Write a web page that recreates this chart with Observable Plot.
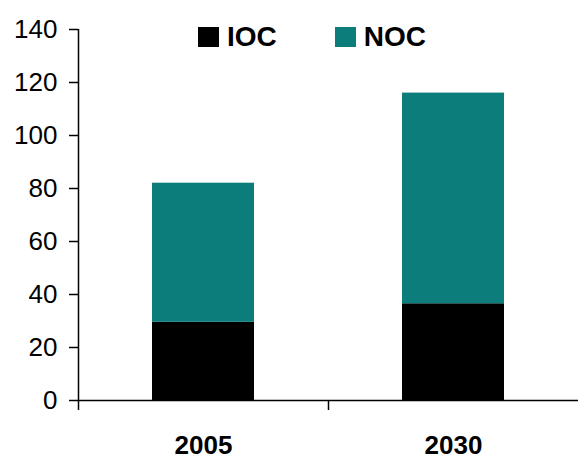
<!DOCTYPE html>
<html>
<head>
<meta charset="utf-8">
<script src="https://cdn.jsdelivr.net/npm/d3@7"></script>
<script src="https://cdn.jsdelivr.net/npm/@observablehq/plot@0.6"></script>
<style>
  html, body { margin: 0; padding: 0; background: #fff; }
  #wrap { position: relative; width: 578px; height: 460px; font-family: "Liberation Sans", Arial, sans-serif; }
  #legend { position: absolute; top: 23px; left: 198px; display: flex; gap: 58px;
            font-size: 28px; font-weight: bold; line-height: 28px; color: #000; }
  #legend .item { display: flex; align-items: center; gap: 8px; }
  #legend .sw { width: 21px; height: 20px; }
  svg { display: block; }
</style>
</head>
<body>
<div id="wrap"><div id="legend"></div></div>
<script>
// Categories (years) and stacked series values
const years = ["2005", "2030"];
const series = ["IOC", "NOC"];
const iocValues = [29.5, 36.5];
const nocValues = [52.5, 79.5];
const seriesColors = ["#000000", "#0d7d7b"];
const yTicks = [0, 20, 40, 60, 80, 100, 120, 140];

// One row per (year, series); each year occupies the unit interval [i, i + 1]
const rows = years.flatMap((year, i) => [
  {year, i0: i, i1: i + 1, series: "IOC", value: iocValues[i]},
  {year, i0: i, i1: i + 1, series: "NOC", value: nocValues[i]}
]);

const font = "Liberation Sans, Arial, sans-serif";

const chart = Plot.plot({
  width: 578,
  height: 460,
  marginLeft: 78,
  marginRight: 0,
  marginTop: 29,
  marginBottom: 60,
  style: {fontFamily: font, color: "#000", background: "#fff", overflow: "visible"},
  x: {type: "linear", domain: [0, years.length], axis: null},
  y: {domain: [0, 140], axis: null},
  color: {domain: series, range: seriesColors},
  marks: [
    Plot.rectY(rows, Plot.stackY({
      x1: "i0", x2: "i1", y: "value", fill: "series",
      insetLeft: 74, insetRight: 74, order: series
    })),
    // y axis
    Plot.ruleX([0], {y1: 0, y2: 140, stroke: "#000", strokeWidth: 1.5}),
    Plot.axisY({ticks: yTicks, tickSize: 9, tickPadding: 12, fontSize: 26,
                strokeWidth: 1.5, label: null, tickFormat: d => String(d)}),
    // x axis line with ticks at the category boundaries
    Plot.ruleY([0], {stroke: "#000", strokeWidth: 1.5}),
    Plot.axisX({ticks: d3.range(years.length), tickSize: 10, strokeWidth: 1.5,
                label: null, tickFormat: () => ""}),
    // category labels centred in each interval
    Plot.axisX({ticks: years.map((_, i) => i + 0.5), tickSize: 0, tickPadding: 35,
                fontSize: 26, fontWeight: "bold", label: null,
                tickFormat: d => years[Math.floor(d)]})
  ]
});

document.getElementById("wrap").appendChild(chart);

// Legend drawn from the series names and colours
const legend = d3.select("#legend");
series.forEach((name, k) => {
  const item = legend.append("div").attr("class", "item");
  item.append("div").attr("class", "sw").style("background", seriesColors[k]);
  item.append("span").text(name);
});
</script>
</body>
</html>
